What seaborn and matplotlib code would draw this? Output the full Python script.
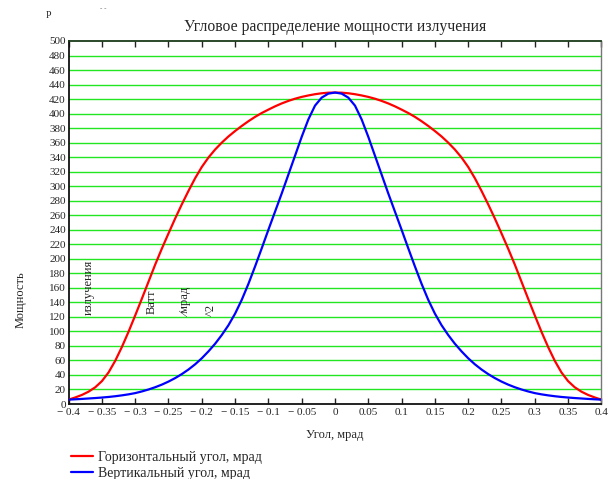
import matplotlib
matplotlib.use("Agg")
import matplotlib.pyplot as plt
import pandas as pd
import seaborn as sns

# Angle, mrad
angle = [-0.40, -0.39, -0.38, -0.37, -0.36, -0.35, -0.34, -0.33, -0.32, -0.31,
         -0.30, -0.29, -0.28, -0.27, -0.26, -0.25, -0.24, -0.23, -0.22, -0.21,
         -0.20, -0.19, -0.18, -0.17, -0.16, -0.15, -0.14, -0.13, -0.12, -0.11,
         -0.10, -0.09, -0.08, -0.07, -0.06, -0.05, -0.04, -0.03, -0.02, -0.01,
         0.00,
         0.01, 0.02, 0.03, 0.04, 0.05, 0.06, 0.07, 0.08, 0.09, 0.10,
         0.11, 0.12, 0.13, 0.14, 0.15, 0.16, 0.17, 0.18, 0.19, 0.20,
         0.21, 0.22, 0.23, 0.24, 0.25, 0.26, 0.27, 0.28, 0.29, 0.30,
         0.31, 0.32, 0.33, 0.34, 0.35, 0.36, 0.37, 0.38, 0.39, 0.40]

# Power distribution over the horizontal angle
horizontal = [6, 9, 12.5, 17, 23, 31.5, 43.5, 59.5, 78.5, 99.5,
              122, 145, 168.5, 192, 214, 235, 255.5, 275, 293.5, 311,
              326.5, 339.5, 350.5, 360, 368.5, 376, 383, 389.5, 395.5, 400.8,
              405.5, 410, 414, 417.5, 420.5, 423, 425, 426.7, 428, 428.8,
              429,
              428.8, 428, 426.7, 425, 423, 420.5, 417.5, 414, 410, 405.5,
              400.8, 395.5, 389.5, 383, 376, 368.5, 360, 350.5, 339.5, 326.5,
              311, 293.5, 275, 255.5, 235, 214, 192, 168.5, 145, 122,
              99.5, 78.5, 59.5, 43.5, 31.5, 23, 17, 12.5, 9, 6]

# Power distribution over the vertical angle
vertical = [6, 6.5, 7, 7.6, 8.2, 8.9, 9.7, 10.7, 11.9, 13.3,
            15, 17.3, 20, 23.1, 26.7, 30.9, 35.7, 41.2, 47.5, 54.7,
            63, 72.5, 83, 95, 108.5, 124.5, 143.5, 165.5, 189.5, 214.5,
            240, 265, 290, 316, 342, 368, 392, 411, 422, 427.5,
            429,
            427.5, 422, 411, 392, 368, 342, 316, 290, 265, 240,
            214.5, 189.5, 165.5, 143.5, 124.5, 108.5, 95, 83, 72.5, 63,
            54.7, 47.5, 41.2, 35.7, 30.9, 26.7, 23.1, 20, 17.3, 15,
            13.3, 11.9, 10.7, 9.7, 8.9, 8.2, 7.6, 7, 6.5, 6]

series_names = ["Горизонтальный угол, мрад", "Вертикальный угол, мрад"]
series_colors = ["#ff0000", "#0000ff"]

x_ticks = [-0.4, -0.35, -0.3, -0.25, -0.2, -0.15, -0.1, -0.05, 0,
           0.05, 0.1, 0.15, 0.2, 0.25, 0.3, 0.35, 0.4]
x_tick_labels = ["\u2212 0.4", "\u2212 0.35", "\u2212 0.3", "\u2212 0.25", "\u2212 0.2",
                 "\u2212 0.15", "\u2212 0.1", "\u2212 0.05", "0", "0.05", "0.1",
                 "0.15", "0.2", "0.25", "0.3", "0.35", "0.4"]
y_ticks = list(range(0, 501, 20))

df = pd.DataFrame({
    "angle": angle * 2,
    "power": horizontal + vertical,
    "series": [series_names[0]] * len(angle) + [series_names[1]] * len(angle),
})

sns.set_theme(style="white")
plt.rcParams["font.family"] = ["Liberation Serif", "DejaVu Serif"]
plt.rcParams["axes.unicode_minus"] = True

W, H = 609, 479
fig = plt.figure(figsize=(W / 100, H / 100), dpi=100)
left, right, top, bottom = 68.6, 601.4, 41, 404
ax = fig.add_axes([left / W, 1 - bottom / H, (right - left) / W, (bottom - top) / H])

# Horizontal green grid at every 20 units
for v in y_ticks[1:-1]:
    ax.axhline(v, color="#22e622", lw=1.0, zorder=1)

sns.lineplot(data=df, x="angle", y="power", hue="series",
             palette=dict(zip(series_names, series_colors)),
             linewidth=1.6, ax=ax, legend=False, zorder=3, sort=False,
             estimator=None)

ax.set_xlim(-0.4, 0.4)
ax.set_ylim(0, 500)
ax.set_xticks(x_ticks)
ax.set_xticklabels(x_tick_labels, fontsize=8)
ax.set_yticks(y_ticks)
ax.set_yticklabels([str(v) for v in y_ticks], fontsize=8)
ax.tick_params(axis="x", direction="in", length=4.5, width=1.0, color="#222222",
               top=True, bottom=True, pad=3)
ax.tick_params(axis="y", length=0, pad=2)
ax.set_xlabel("")
ax.set_ylabel("")
ax.grid(False)

for side in ("left", "bottom"):
    ax.spines[side].set_color("#111111")
    ax.spines[side].set_linewidth(1.3)
ax.spines["top"].set_color("#1a3a1a")
ax.spines["top"].set_linewidth(1.3)
ax.spines["right"].set_color("#777777")
ax.spines["right"].set_linewidth(1.0)

# Titles and axis names
fig.text(335 / W, 1 - 27 / H, "Угловое распределение мощности излучения",
         ha="center", va="center", fontsize=11.3)
fig.text(335 / W, 1 - 435 / H, "Угол, мрад", ha="center", va="center", fontsize=9)
fig.text(21 / W, 1 - 300 / H, "Мощность", ha="center", va="center",
         rotation=90, fontsize=9)

# Loose parts of the power unit label
fig.text(89 / W, 1 - 287 / H, "излучения", ha="center", va="center",
         rotation=90, fontsize=9)
fig.text(152 / W, 1 - 302 / H, "Ватт", ha="center", va="center",
         rotation=90, fontsize=9)
fig.text(187 / W, 1 - 303 / H, "\u2044мрад", ha="center", va="center",
         rotation=90, fontsize=9)
fig.text(211 / W, 1 - 310 / H, "^2", ha="center", va="center",
         rotation=90, fontsize=9)
fig.text(48 / W, 1 - 15 / H, "P", ha="center", va="center", fontsize=7)
fig.text(103 / W, 1 - 9 / H, "- -", ha="center", va="center", fontsize=5,
         color="#555555")

# Legend below the plot
handles = [plt.Line2D([], [], color=c, lw=1.6) for c in series_colors]
fig.legend(handles, series_names, loc="upper left",
           bbox_to_anchor=(64 / W, 1 - 444 / H), frameon=False, borderpad=0,
           handlelength=1.6, handletextpad=0.35, labelspacing=0.2, fontsize=10)

fig.savefig("out.png", dpi=100)
